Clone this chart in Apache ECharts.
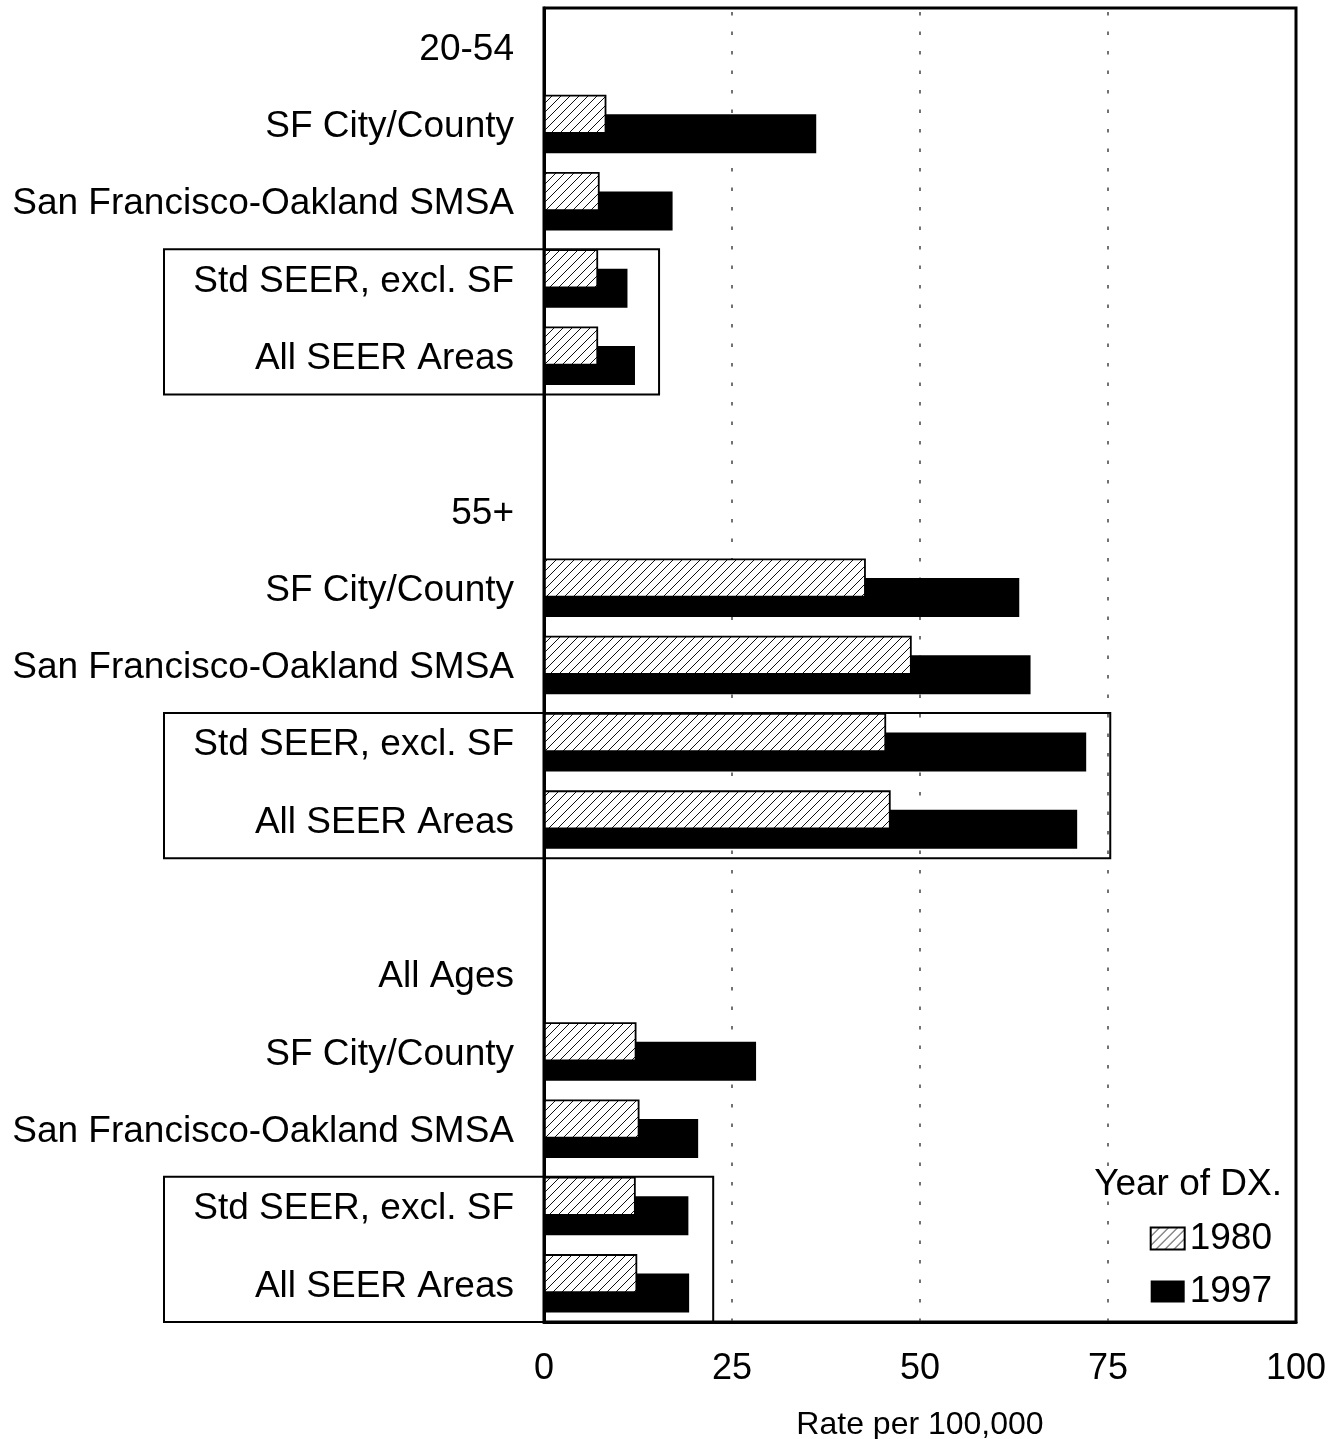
<!DOCTYPE html>
<html>
<head>
<meta charset="utf-8">
<script src="https://cdn.jsdelivr.net/npm/echarts@6/dist/echarts.min.js"></script>
<style>
  html, body { margin: 0; background: #fff; }
  #chart { width: 1339px; height: 1439px; }
</style>
</head>
<body>
<div id="chart"></div>
<script>
var categories = [
  '20-54', 'SF City/County', 'San Francisco-Oakland SMSA', 'Std SEER, excl. SF', 'All SEER Areas',
  '',
  '55+', 'SF City/County', 'San Francisco-Oakland SMSA', 'Std SEER, excl. SF', 'All SEER Areas',
  '',
  'All Ages', 'SF City/County', 'San Francisco-Oakland SMSA', 'Std SEER, excl. SF', 'All SEER Areas'
];
var rate1980 = [null, 8.3, 7.4, 7.2, 7.2, null, null, 42.8, 48.9, 45.5, 46.1, null, null, 12.3, 12.7, 12.2, 12.4];
var rate1997 = [null, 36.2, 17.1, 11.1, 12.1, null, null, 63.2, 64.7, 72.1, 70.9, null, null, 28.2, 20.5, 19.2, 19.3];
var boxedRows = [[3, 4], [9, 10], [15, 16]];

var FONT = '"Liberation Sans", Arial, sans-serif';

// diagonal hatch used for the 1980 bars
function hatchPattern() {
  var c = document.createElement('canvas');
  c.width = 9;
  c.height = 9;
  var ctx = c.getContext('2d');
  ctx.fillStyle = '#fff';
  ctx.fillRect(0, 0, 9, 9);
  ctx.strokeStyle = '#111';
  ctx.lineWidth = 1;
  ctx.beginPath();
  ctx.moveTo(-1, 10); ctx.lineTo(10, -1);
  ctx.moveTo(-1, 1); ctx.lineTo(1, -1);
  ctx.moveTo(8, 10); ctx.lineTo(10, 8);
  ctx.stroke();
  return c;
}

var chart = echarts.init(document.getElementById('chart'));
chart.setOption({
  animation: false,
  grid: {
    left: 544, right: 43, top: 8, bottom: 117,
    outerBoundsMode: 'none',
    containLabel: false,
    show: true, borderColor: '#000', borderWidth: 3
  },
  title: {
    text: 'Year of DX.',
    right: 57, top: 1166, padding: 0,
    textStyle: { fontFamily: FONT, fontSize: 37, fontWeight: 'normal', color: '#000' }
  },
  legend: {
    orient: 'vertical',
    right: 67, top: 1220, padding: 0,
    icon: 'rect',
    itemWidth: 34, itemHeight: 22, itemGap: 16,
    textStyle: { fontFamily: FONT, fontSize: 37, color: '#000' },
    data: ['1980', '1997']
  },
  xAxis: {
    type: 'value',
    min: 0, max: 100, interval: 25,
    name: 'Rate per 100,000',
    nameLocation: 'middle',
    nameGap: 87,
    nameTextStyle: { fontFamily: FONT, fontSize: 32, color: '#000' },
    axisLine: { show: true, lineStyle: { color: '#000', width: 3 } },
    axisTick: { show: false },
    axisLabel: { fontFamily: FONT, fontSize: 36, color: '#000', margin: 29 },
    splitLine: {
      show: true,
      showMinLine: false,
      showMaxLine: false,
      lineStyle: { color: '#444', width: 1.5, type: [3.5, 16], dashOffset: -4 }
    }
  },
  yAxis: {
    type: 'category',
    inverse: true,
    data: categories,
    axisLine: { lineStyle: { color: '#000', width: 3 } },
    axisTick: { show: false },
    axisLabel: {
      fontFamily: FONT, fontSize: 37, color: '#000', margin: 30,
      formatter: function (v) { return '{a|' + v + '}'; },
      rich: { a: { fontFamily: FONT, fontSize: 37, color: '#000', padding: [6, 0, 0, 0] } }
    }
  },
  series: [
    {
      name: '1980',
      type: 'bar',
      data: rate1980,
      barWidth: 39,
      barGap: '-50%',
      z: 3,
      itemStyle: {
        color: { image: hatchPattern(), repeat: 'repeat' },
        borderColor: '#000',
        borderWidth: 1.8
      }
    },
    {
      name: '1997',
      type: 'bar',
      data: rate1997,
      barWidth: 39,
      z: 2,
      itemStyle: { color: '#000' }
    }
  ]
});

// frames around the two SEER rows of each age group
var band = chart.convertToPixel({ yAxisIndex: 0 }, 1) - chart.convertToPixel({ yAxisIndex: 0 }, 0);
var boxes = boxedRows.map(function (rows) {
  var top = chart.convertToPixel({ yAxisIndex: 0 }, rows[0]) - 0.75 * 39;
  var bottom = chart.convertToPixel({ yAxisIndex: 0 }, rows[1]) + band / 2;
  var maxVal = Math.max(rate1980[rows[0]], rate1980[rows[1]], rate1997[rows[0]], rate1997[rows[1]]);
  var right = chart.convertToPixel({ xAxisIndex: 0 }, maxVal + 3.2);
  return {
    type: 'rect',
    z: 10,
    shape: { x: 164, y: top, width: right - 164, height: bottom - top },
    style: { fill: null, stroke: '#000', lineWidth: 2 }
  };
});
chart.setOption({ graphic: boxes });
</script>
</body>
</html>
